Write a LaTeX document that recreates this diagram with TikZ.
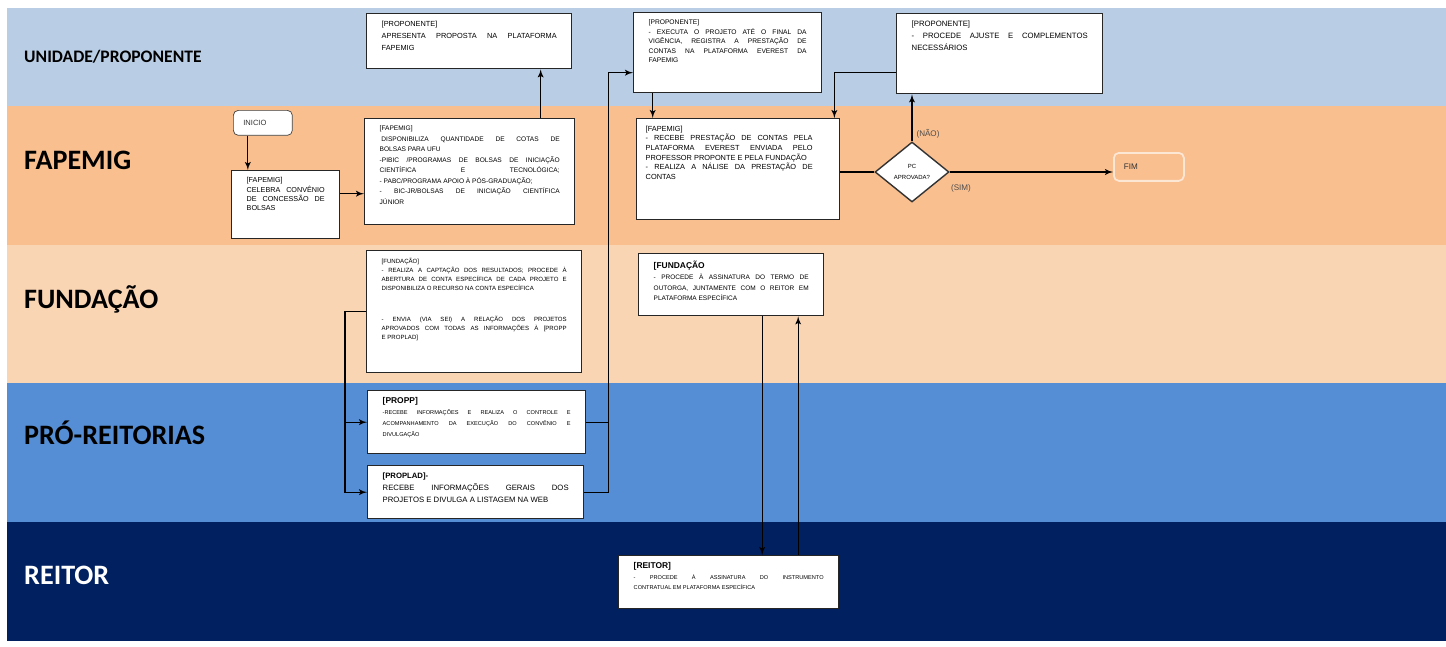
\documentclass[tikz,border=0pt]{standalone}
\usepackage{fontspec}
\setmainfont{Liberation Sans}
\newfontfamily\rotulo{Carlito}
\usetikzlibrary{shapes,arrows,positioning,calc}

\definecolor{corUnid}{HTML}{B9CDE5}
\definecolor{corFap}{HTML}{F9BF8F}
\definecolor{corFund}{HTML}{FAD5B4}
\definecolor{corPro}{HTML}{558ED5}
\definecolor{corReit}{HTML}{002060}
\definecolor{bordaFim}{HTML}{FCE6D4}

\newlength\px
\setlength\px{0.2mm}
\newcommand{\tam}[2]{\fontsize{#1}{#2}\selectfont}
\newcommand{\caixa}[3]{\parbox[t][\dimexpr#2\px-14\px\relax][t]{\dimexpr#1\px-30\px\relax}{#3}}

\tikzset{
  passo/.style={rectangle, draw=black!85, fill=white, line width=0.8pt, anchor=north west,
    inner xsep=15\px, inner ysep=7\px, text=black},
  faixa/.style={anchor=base west, font=\rotulo\bfseries\tam{16}{19}},
  extremo/.style={rectangle, rounded corners=1mm, anchor=north west, align=left,
    inner xsep=10\px, inner ysep=0pt},
  decisao/.style={diamond, draw=black!80, fill=white, line width=0.8pt, inner sep=0pt,
    minimum width=74\px, minimum height=60\px, align=center, font=\tam{3.4}{6}, text=black},
  rotseta/.style={font=\tam{4.6}{5}, text=black!70},
  seta/.style={->, line width=0.6pt},
  liga/.style={line width=0.6pt},
}

\begin{document}
\begin{tikzpicture}[x=0.02cm, y=-0.02cm, >=latex']
	\useasboundingbox (0,0) rectangle (1446,646);
	% raias
	\fill[corUnid] (7,8) rectangle (1446,106);
	\fill[corFap] (7,106) rectangle (1446,245);
	\fill[corFund] (7,245) rectangle (1446,383);
	\fill[corPro] (7,383) rectangle (1446,522);
	\fill[corReit] (7,522) rectangle (1446,641);
	\node[faixa, font=\rotulo\bfseries\tam{10}{12}] (lunid) at (18,62) {UNIDADE/PROPONENTE};
	\node[faixa] (lfap) at (18,169) {FAPEMIG};
	\node[faixa] (lfund) at (18,308) {FUNDAÇÃO};
	\node[faixa] (lpro) at (18,444) {PRÓ-REITORIAS};
	\node[faixa, text=white] (lreit) at (18,584) {REITOR};

	% unidade/proponente
	\node[passo] (prop1) at (366,13) {\caixa{205}{55}{\tam{4.2}{7}[PROPONENTE]\newline
		APRESENTA PROPOSTA NA PLATAFORMA\linebreak FAPEMIG}};
	\node[passo] (prop2) at (633,12) {\caixa{188}{80}{\tam{3.8}{5.4}[PROPONENTE]\newline
		- EXECUTA O PROJETO ATÉ O FINAL DA\linebreak VIGÊNCIA, REGISTRA A PRESTAÇÃO DE\linebreak
		CONTAS NA PLATAFORMA EVEREST DA\linebreak FAPEMIG}};
	\node[passo] (prop3) at (896,13) {\caixa{206}{80}{\tam{4.4}{7}[PROPONENTE]\newline
		- PROCEDE AJUSTE E COMPLEMENTOS\linebreak NECESSÁRIOS}};

	% fapemig
	\node[extremo, draw=black!75, fill=white, text width=39\px, minimum height=25\px,
		font=\tam{4.3}{5}, text=black!80] (inicio) at (233,110) {INICIO};
	\node[passo] (fap1) at (231,170) {\caixa{108}{68}{\tam{4.1}{5.2}[FAPEMIG]\newline
		CELEBRA CONVÊNIO\linebreak DE CONCESSÃO DE\linebreak BOLSAS}};
	\node[passo] (fap2) at (364,118) {\caixa{210}{106}{\tam{3.75}{6}[FAPEMIG]\newline
		\hspace*{1pt}DISPONIBILIZA QUANTIDADE DE COTAS DE\linebreak BOLSAS PARA UFU\newline
		-PIBIC /PROGRAMAS DE BOLSAS DE INICIAÇÃO\linebreak CIENTÍFICA E TECNOLÓGICA;\linebreak
		- PABC/PROGRAMA APOIO À PÓS-GRADUAÇÃO;\newline
		- BIC-JR/BOLSAS DE INICIAÇÃO CIENTÍFICA\linebreak JÚNIOR}};
	\node[passo, inner xsep=9\px] (fap3) at (636,118) {\caixa{197}{101}{\tam{4.2}{5.5}[FAPEMIG]\newline
		- RECEBE PRESTAÇÃO DE CONTAS PELA\linebreak PLATAFORMA EVEREST ENVIADA PELO\linebreak
		PROFESSOR PROPONTE E PELA FUNDAÇÃO\newline
		- REALIZA A NÁLISE DA PRESTAÇÃO DE\linebreak CONTAS}\hspace*{18\px}};
	\node[decisao] (dec) at (912,172) {PC\\APROVADA?};
	\node[extremo, draw=bordaFim, line width=1pt, fill=corFap, text width=50\px,
		minimum height=28\px, font=\tam{4.6}{5}, text=black!80] (fim) at (1113,152) {FIM};
	\node[rotseta] (nao) at (928,134) {(NÃO)};
	\node[rotseta] (sim) at (961,188) {(SIM)};

	% fundacao
	\node[passo] (fund1) at (366,250) {\caixa{215}{122}{\tam{3.45}{5.2}[FUNDAÇÃO]\newline
		- REALIZA A CAPTAÇÃO DOS RESULTADOS; PROCEDE À\linebreak
		ABERTURA DE CONTA ESPECÍFICA DE CADA PROJETO E\linebreak
		DISPONIBILIZA O RECURSO NA CONTA ESPECÍFICA\par\vspace{4.4mm}
		- ENVIA (VIA SEI) A RELAÇÃO DOS PROJETOS\linebreak
		APROVADOS COM TODAS AS INFORMAÇÕES À [PROPP\linebreak E PROPLAD]}};
	\node[passo] (fund2) at (638,253) {\caixa{185}{62}{\tam{3.7}{6.2}{\bfseries\tam{4.8}{6.2}[FUNDAÇÃO}\newline
		- PROCEDE À ASSINATURA DO TERMO DE\linebreak
		OUTORGA, JUNTAMENTE COM O REITOR EM\linebreak PLATAFORMA ESPECÍFICA}};

	% pro-reitorias
	\node[passo] (propp) at (367,390) {\caixa{218}{63}{\tam{3.2}{6.2}{\bfseries\tam{4.8}{6.2}[PROPP]}\newline
		-RECEBE INFORMAÇÕES E REALIZA O CONTROLE E\linebreak
		ACOMPANHAMENTO DA EXECUÇÃO DO CONVÊNIO E\linebreak DIVULGAÇÃO}};
	\node[passo] (proplad) at (367,465) {\caixa{216}{53}{\tam{4.4}{6.8}{\bfseries[PROPLAD]-}\newline
		RECEBE INFORMAÇÕES GERAIS DOS\linebreak PROJETOS E DIVULGA A LISTAGEM NA WEB}};

	% reitor
	\node[passo] (reitor) at (618,555) {\caixa{220}{53}{\tam{3.2}{6}{\bfseries\tam{4.8}{6}[REITOR]}\newline
		- PROCEDE À ASSINATURA DO INSTRUMENTO\linebreak CONTRATUAL EM PLATAFORMA ESPECÍFICA}};

	% ligacoes
	\draw[seta] ([xshift=-15\px]inicio.south) -- ([xshift=-15\px]inicio.south |- fap1.north);
	\draw[seta] ([yshift=11\px]fap1.east) -- ([yshift=11\px]fap1.east -| fap2.west);
	\draw[seta] ([xshift=71\px]fap2.north) -- ([xshift=71\px]fap2.north |- prop1.south);
	\coordinate (sobe) at ([xshift=22\px, yshift=-20\px]propp.east |- prop2.west);
	\draw[seta] (propp.east) -| (sobe) -- (sobe -| prop2.west);
	\draw[liga] (proplad.east) -| (sobe);
	\draw[seta] ([xshift=-75\px]prop2.south) -- ([xshift=-75\px]prop2.south |- fap3.north);
	\draw[liga] (dec.west -| fap3.east) -- (dec.west);
	\draw[seta] (dec.east) -- (dec.east -| fim.west);
	\draw[seta] (dec.north) -- (dec.north |- prop3.south);
	\draw[seta] ([yshift=-19\px]prop3.west) -| ([xshift=-6\px]fap3.north east);
	\coordinate (desce) at ([xshift=-21\px]fund1.west);
	\draw[seta] (fund1.west) -- (desce) |- (propp.west);
	\draw[seta] (desce) |- (proplad.west);
	\draw[seta] ([xshift=31\px]fund2.south) -- ([xshift=31\px]fund2.south |- reitor.north);
	\draw[seta] ([xshift=67\px]fund2.south |- reitor.north) -- ([xshift=67\px]fund2.south);
\end{tikzpicture}
\end{document}
